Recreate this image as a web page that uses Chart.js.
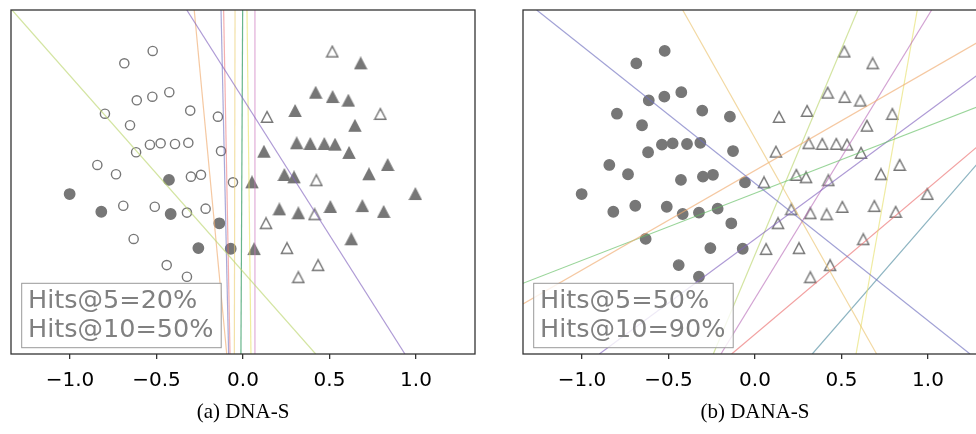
<!DOCTYPE html>
<html>
<head>
<meta charset="utf-8">
<script src="https://cdn.jsdelivr.net/npm/chart.js@4.4.1/dist/chart.umd.min.js"></script>
<style>
  body { margin: 0; background: #fff; overflow: hidden; }
  #wrap { position: relative; width: 976px; height: 434px; overflow: hidden; }
  canvas { position: absolute; top: 0; }
</style>
</head>
<body>
<div id="wrap">
  <canvas id="dna" width="488" height="434" style="left:0"></canvas>
  <canvas id="dana" width="488" height="434" style="left:512px"></canvas>
</div>
<script>
// class A points (circles)
const circleX = [-0.522, -0.686, -0.614, -0.524, -0.426, -0.798, -0.305, -0.145, -0.653, -0.538, -0.476, -0.393,
  -0.316, -0.618, -0.127, -0.842, -0.734, -0.428, -0.301, -0.243, -0.058, -1.002, -0.819, -0.692, -0.510, -0.418,
  -0.324, -0.216, -0.137, -0.632, -0.258, -0.071, -0.441, -0.324];
const circleY = [0.762, 0.690, 0.475, 0.496, 0.522, 0.397, 0.415, 0.380, 0.330, 0.217, 0.225, 0.221,
  0.228, 0.173, 0.180, 0.099, 0.045, 0.012, 0.031, 0.042, -0.002, -0.070, -0.173, -0.138, -0.144, -0.186,
  -0.178, -0.155, -0.240, -0.331, -0.384, -0.388, -0.483, -0.551];
// class B points (triangles)
const triX = [0.516, 0.680, 0.420, 0.518, 0.609, 0.301, 0.139, 0.794, 0.647, 0.310, 0.389, 0.470,
  0.532, 0.121, 0.613, 0.836, 0.728, 0.239, 0.295, 0.424, 0.052, 0.996, 0.210, 0.320, 0.414, 0.505,
  0.690, 0.813, 0.133, 0.626, 0.064, 0.254, 0.434, 0.320];
const triY = [0.758, 0.690, 0.519, 0.494, 0.473, 0.413, 0.378, 0.395, 0.327, 0.225, 0.221, 0.221,
  0.217, 0.176, 0.169, 0.099, 0.045, 0.041, 0.027, 0.010, -0.002, -0.070, -0.159, -0.182, -0.188, -0.145,
  -0.140, -0.174, -0.240, -0.333, -0.390, -0.385, -0.484, -0.554];

// which points are filled in each panel (1 = filled)
const dnaCircleFilled = [0,0,0,0,0,0,0,0,0,0,0,0,0,0,0,0,0,1,0,0,0,1,1,0,0,1,0,0,1,0,1,1,0,0];
const dnaTriFilled    = [0,1,1,1,1,1,0,0,1,1,1,1,1,1,1,1,1,1,1,0,1,1,1,1,0,1,1,1,0,1,1,0,0,0];
const danaCircleFilled = circleX.map(() => 1);
const danaTriFilled    = triX.map(() => 0);

// separating lines [x1, y1, x2, y2]
const dnaLines = [
  [-1.335, 1.0, 0.420, -1.0],
  [-0.325, 1.0, 0.936, -1.0],
  [-0.282, 1.0, -0.094, -1.0],
  [-0.127, 1.0, -0.083, -1.0],
  [-0.112, 1.0, -0.075, -1.0],
  [-0.046, 1.0, -0.050, -1.0],
  [-0.002, 1.0, -0.012, -1.0],
  [0.023, 1.0, 0.046, -1.0],
  [0.069, 1.0, 0.069, -1.0]
];
const dnaLineColors = ['rgba(188,214,110,0.65)', 'rgba(130,100,190,0.65)', 'rgba(240,170,110,0.65)',
  'rgba(110,110,190,0.6)', 'rgba(235,110,110,0.55)', 'rgba(235,205,110,0.6)', 'rgba(40,150,90,0.7)',
  'rgba(230,225,90,0.6)', 'rgba(205,120,190,0.6)'];

const danaLines = [
  [-1.262, 1.0, 1.243, -1.0],
  [-0.418, 1.0, 0.703, -1.0],
  [-1.341, -0.709, 1.4, 0.877],
  [-1.341, -0.589, 1.4, 0.482],
  [-0.900, -1.0, 1.4, 0.707],
  [-0.241, -1.0, 0.594, 1.0],
  [-0.197, -1.0, 1.021, 1.0],
  [0.938, 1.0, 0.584, -1.0],
  [-0.135, -1.0, 1.4, 0.303],
  [0.331, -1.0, 1.4, 0.239]
];
const danaLineColors = ['rgba(110,110,190,0.65)', 'rgba(235,195,110,0.65)', 'rgba(240,170,110,0.65)',
  'rgba(100,190,100,0.65)', 'rgba(130,100,190,0.65)', 'rgba(188,214,110,0.65)', 'rgba(180,100,180,0.6)',
  'rgba(230,225,110,0.65)', 'rgba(235,110,110,0.65)', 'rgba(80,140,160,0.65)'];

const xTicks = [-1, -0.5, 0, 0.5, 1];
const xTickLabels = ['\u22121.0', '\u22120.5', '0.0', '0.5', '1.0'];
const dnaHits = ['Hits@5=20%', 'Hits@10=50%'];
const danaHits = ['Hits@5=50%', 'Hits@10=90%'];

const gray = '#777777';

function triMarker(fill) {
  const c = document.createElement('canvas');
  c.width = 14; c.height = 14;
  const g = c.getContext('2d');
  g.beginPath();
  g.moveTo(7, 1.6); g.lineTo(1.4, 12.2); g.lineTo(12.6, 12.2); g.closePath();
  g.fillStyle = fill ? gray : '#fff';
  g.fill();
  g.strokeStyle = gray; g.lineWidth = 1.4;
  g.stroke();
  return c;
}
const triFull = triMarker(true), triOpen = triMarker(false);

const framePlugin = {
  id: 'frame',
  afterDatasetsDraw(chart) {
    const { ctx, chartArea: a } = chart;
    const hits = chart.options.plugins.frame.hits;
    ctx.save();
    ctx.strokeStyle = '#333';
    ctx.lineWidth = 1.3;
    ctx.strokeRect(a.left, a.top, a.right - a.left, a.bottom - a.top);
    const bx = a.left + 10.7, by = a.bottom - 70.7;
    ctx.fillStyle = 'rgba(255,255,255,0.8)';
    ctx.fillRect(bx, by, 199.5, 64.4);
    ctx.strokeStyle = '#999';
    ctx.lineWidth = 1;
    ctx.strokeRect(bx, by, 199.5, 64.4);
    ctx.fillStyle = '#808080';
    ctx.font = '25.5px "DejaVu Sans"';
    ctx.textBaseline = 'alphabetic';
    ctx.fillText(hits[0], bx + 6.3, a.bottom - 45.7);
    ctx.fillText(hits[1], bx + 6.3, a.bottom - 16.7);
    ctx.restore();
  }
};

function makeChart(id, title, hits, lines, lineColors, circFilled, triFilled) {
  const datasets = lines.map((l, i) => ({
    data: [{ x: l[0], y: l[1] }, { x: l[2], y: l[3] }],
    showLine: true,
    borderColor: lineColors[i],
    borderWidth: 1.2,
    pointRadius: 0,
    order: 0
  }));
  datasets.push({
    data: circleX.map((x, i) => ({ x: x, y: circleY[i] })),
    pointStyle: 'circle',
    pointRadius: c => circFilled[c.dataIndex] ? 5.2 : 4.6,
    pointBorderWidth: 1.4,
    pointBackgroundColor: c => circFilled[c.dataIndex] ? gray : '#fff',
    pointBorderColor: gray,
    order: 1
  });
  datasets.push({
    data: triX.map((x, i) => ({ x: x, y: triY[i] })),
    pointStyle: c => triFilled[c.dataIndex] ? triFull : triOpen,
    pointRadius: 5,
    order: 1
  });

  return new Chart(document.getElementById(id), {
    type: 'scatter',
    data: { datasets: datasets },
    plugins: [framePlugin],
    options: {
      responsive: false,
      animation: false,
      layout: { padding: { left: 11, right: 13, top: 10, bottom: 0 } },
      scales: {
        x: {
          type: 'linear', min: -1.341, max: 1.341,
          afterBuildTicks: s => { s.ticks = xTicks.map(v => ({ value: v })); },
          afterFit: s => { s.height = 80; },
          border: { display: false },
          grid: { drawOnChartArea: false, drawTicks: true, tickLength: 5, color: '#333', lineWidth: 1.3 },
          ticks: {
            font: { family: 'DejaVu Sans', size: 20 }, color: '#000', padding: 10,
            maxRotation: 0, autoSkip: false,
            callback: (v, i) => xTickLabels[i]
          },
          title: {
            display: true, text: title, color: '#000',
            font: { family: 'Liberation Serif', size: 21 },
            padding: { top: 0, bottom: 9 }
          }
        },
        y: { display: false, min: -1, max: 1 }
      },
      plugins: {
        legend: { display: false },
        tooltip: { enabled: false },
        frame: { hits: hits }
      }
    }
  });
}

makeChart('dna', '(a) DNA-S', dnaHits, dnaLines, dnaLineColors, dnaCircleFilled, dnaTriFilled);
makeChart('dana', '(b) DANA-S', danaHits, danaLines, danaLineColors, danaCircleFilled, danaTriFilled);
</script>
</body>
</html>
